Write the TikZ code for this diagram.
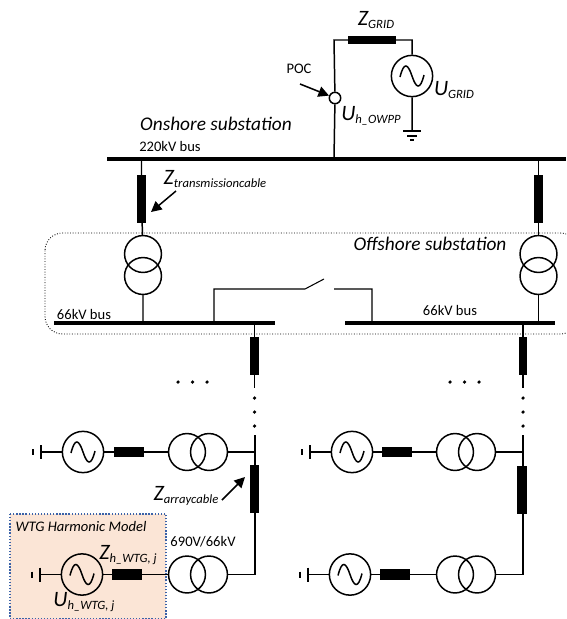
\documentclass[tikz,border=0pt]{standalone}
\usepackage{fontspec}
\setmainfont{Carlito}
\usetikzlibrary{arrows.meta,calc}
\definecolor{modelfill}{HTML}{FBE5D6}
\definecolor{modelline}{HTML}{3A62A8}
\tikzset{
  wire/.style={line width=0.85pt,black},
  thinwire/.style={line width=0.6pt,black},
  busbar/.style={line width=2.4pt,black},
  imp/.style={draw=none,fill=black,minimum width=#1,inner sep=0pt},
  ring/.style={circle,draw,line width=0.85pt,inner sep=0pt,minimum size=21pt},
  src/.style={circle,draw,line width=0.85pt,inner sep=0pt,minimum size=23.5pt},
  pointer/.style={-{Triangle[length=6pt,width=6pt]},line width=0.85pt},
  dotmark/.style={circle,fill=black,inner sep=0pt,minimum size=2pt},
  lab/.style={font=\fontsize{8.3}{10}\selectfont,inner sep=0pt},
  ilab/.style={font=\fontsize{11}{13}\selectfont\itshape,inner sep=0pt},
  zlab/.style={font=\fontsize{12.5}{14}\selectfont\itshape,inner sep=0pt},
}
\newcommand{\sinewave}[1]{\draw[wire] ($(#1)+(-12,1)$) .. controls ($(#1)+(-8,-15)$) and ($(#1)+(-4,-12)$) .. (#1.center) .. controls ($(#1)+(4,12)$) and ($(#1)+(8,15)$) .. ($(#1)+(12,-1)$);}
\newcommand{\sub}[1]{\raisebox{-2pt}{\fontsize{7.2}{9}\selectfont #1}}
\begin{document}
\begin{tikzpicture}[x=0.02cm,y=-0.02cm]
  \useasboundingbox (0,0) rectangle (566,619);
  \clip (0,0) rectangle (566,619);
  % model area and offshore frame
  \fill[modelfill] (10,514) rectangle (166,618.5);
  \draw[modelline,densely dotted,line width=0.75pt] (10,514) rectangle (166,618.5);
  \draw[densely dotted,line width=0.5pt,rounded corners=10pt] (45,233) rectangle (578,334);
  % grid
  \coordinate (pocb) at (334,159);
  \coordinate (gridtl) at (334,40);
  \coordinate (gridtr) at (412,40);
  \node[src] (ugrid) at (412,76) {};
  \sinewave{ugrid}
  \node[imp=27pt,minimum height=4.6pt] (zgrid) at (372,40) {};
  \node[circle,draw,fill=white,line width=0.85pt,inner sep=0pt,minimum size=6.5pt] (poc) at (335,98) {};
  \coordinate (gndt) at (412,131);
  \coordinate (pocarrow) at (300,84);
  \draw[wire] (pocb)--(poc) (poc)--(gridtl)--(zgrid)--(gridtr)--(ugrid) (ugrid)--(gndt);
  \draw[wire] (403,131)--(421,131) (407,136)--(417,136);
  \draw[line width=0.6pt] (410,140)--(414,140);
  \draw[pointer] (pocarrow)--(poc);
  \node[lab] (poclab) at (299,69) {POC};
  \node[zlab] (zgridlab) at (376,20) {Z\sub{GRID}};
  \node[zlab] (ugridlab) at (454,90) {U\sub{GRID}};
  \node[zlab] (uowpp) at (371,116) {U\sub{h\_OWPP}};
  % buses
  \node[ilab] (onlab) at (216,124) {Onshore substation};
  \node[lab] (b220) at (170,146) {220kV bus};
  \node[ilab] (offlab) at (430,244) {Offshore substation};
  \node[lab] (b66l) at (84,314) {66kV bus};
  \node[lab] (b66r) at (450,310) {66kV bus};
  \draw[busbar] (107,159)--(566,159);
  \draw[busbar] (54,323)--(275,323);
  \draw[busbar] (345,323)--(555,323);
  % main transformers
  \foreach \nm/\xa/\xb in {tl/141.5/143,tr/538.5/538.5}{
    \coordinate (\nm top) at (\xa,159);
    \node[imp=5pt,minimum height=27pt] (\nm cab) at (\xa,199) {};
    \node[ring] (\nm a) at (\xb,254) {};
    \node[ring] (\nm b) at (\xb,276) {};
    \coordinate (\nm bot) at (\xb,323);
    \draw[wire] (\nm top)--(\nm cab)--(\nm a) (\nm b)--(\nm bot);
  }
  \node[zlab] (ztrans) at (215,179) {Z\sub{transmissioncable}};
  \coordinate (ztransarrow) at (176,191);
  \coordinate (ztranstip) at (151,212);
  \draw[pointer] (ztransarrow)--(ztranstip);
  % switch
  \coordinate (swa) at (214,323);
  \coordinate (swb) at (214,289);
  \coordinate (swc) at (305,289);
  \coordinate (swd) at (324,279);
  \coordinate (swe) at (334,289);
  \coordinate (swf) at (372,289);
  \coordinate (swg) at (372,323);
  \draw[thinwire] (swa)--(swb)--(swc)--(swd) (swe)--(swf)--(swg);
  % feeders
  \foreach \nm/\xa/\xc in {l/254.5/178,r/523/450}{
    \coordinate (\nm busb) at (\xa,323);
    \node[imp=4.6pt,minimum height=21.5pt] (\nm cab) at (\xa,356) {};
    \coordinate (\nm end) at (\xa,388);
    \draw[wire] (\nm busb)--(\nm cab)--(\nm end);
    \foreach \k in {0,1,2}{
      \node[dotmark] (\nm h\k) at (\xc+14.5*\k,382) {};
      \node[dotmark] (\nm v\k) at (\xa,398+14*\k) {};
    }
  }
  % turbine rows
  \foreach \nm/\xs/\xz/\xt/\xj/\yy in {la/83/129/187/255/452,ra/352/397/455/523/452,lb/82/127/187/255/574.5,rb/350/395/455/523/574.5}{
    \node[src] (\nm s) at (\xs,\yy) {};
    \sinewave{\nm s}
    \node[imp=17pt,minimum height=5.8pt] (\nm z) at (\xz,\yy) {};
    \node[ring] (\nm t) at (\xt,\yy) {};
    \node[ring] (\nm u) at (\xt+22,\yy) {};
    \coordinate (\nm j) at (\xj,\yy);
    \coordinate (\nm g) at (\xs-42,\yy);
    \draw[wire] (\nm g)--(\nm s) (\nm s)--(\nm z)--(\nm t) (\nm u)--(\nm j);
    \draw[wire] (\xs-42,\yy-7)--(\xs-42,\yy+7);
    \draw[wire] (\xs-50,\yy-3)--(\xs-50,\yy+3);
  }
  \node[imp=5.4pt,minimum height=27.5pt] (lcab) at (254.5,489) {};
  \node[imp=5.4pt,minimum height=27.5pt] (rcab) at (522,490) {};
  \coordinate (lwire) at (255,435);
  \coordinate (rwire) at (523,435);
  \draw[wire] (lwire)--(laj)--(lbj)--(lbu) (rwire)--(raj)--(rbj)--(rbu);
  % labels of the model
  \node[zlab] (zarr) at (186,496) {Z\sub{arraycable}};
  \coordinate (zarrarrow) at (222,500);
  \coordinate (zarrtip) at (245,477);
  \draw[pointer] (zarrarrow)--(zarrtip);
  \node[lab] (wtglab) at (81,526) {\itshape WTG Harmonic Model};
  \node[lab] (ratio) at (203,542) {690V/66kV};
  \node[zlab] (zwtg) at (128,555) {Z\sub{h\_WTG, j}};
  \node[zlab] (uwtg) at (84,602) {U\sub{h\_WTG, j}};
\end{tikzpicture}
\end{document}
